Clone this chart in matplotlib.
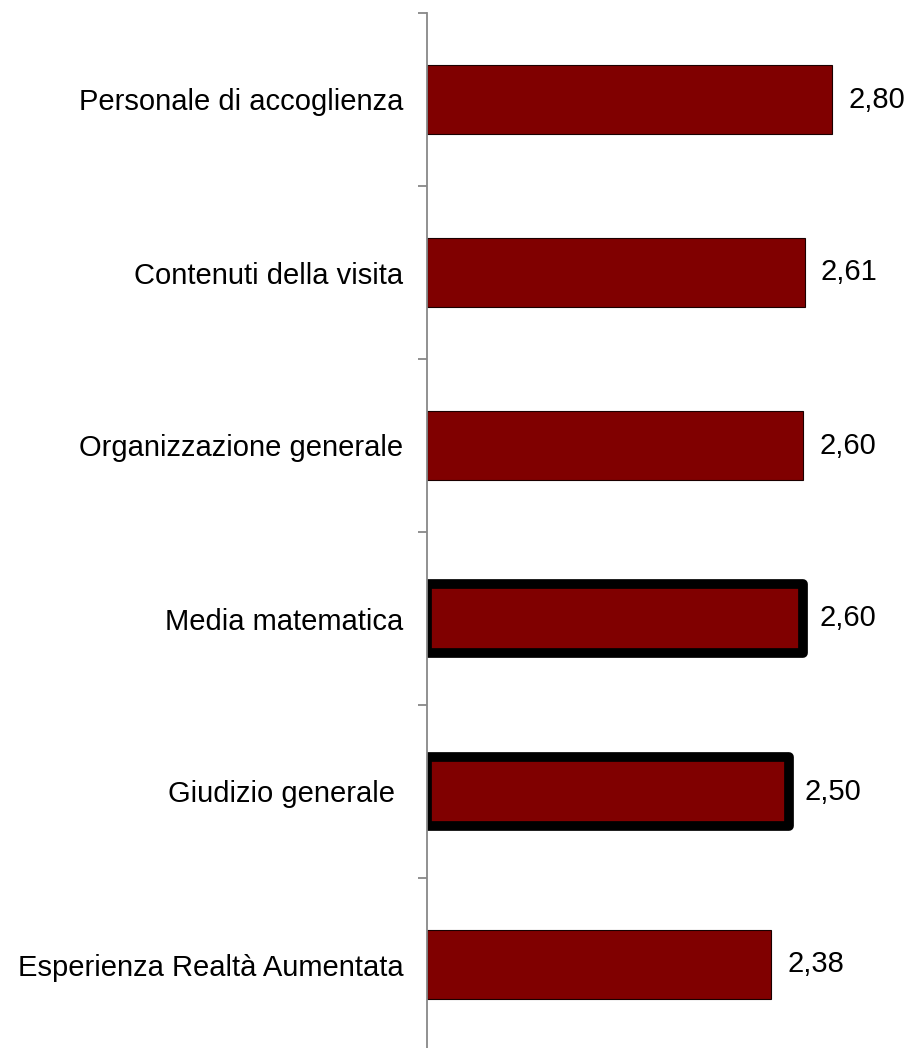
import matplotlib.pyplot as plt
import matplotlib.ticker as mticker

plt.rcParams['font.family'] = ['Liberation Sans', 'DejaVu Sans']

# punteggi medi per voce del questionario
voci = ['Personale di accoglienza', 'Contenuti della visita', 'Organizzazione generale',
        'Media matematica', 'Giudizio generale ', 'Esperienza Realtà Aumentata']
punteggi = [2.80, 2.61, 2.60, 2.60, 2.50, 2.38]
evidenziate = [False, False, False, True, True, False]

fig = plt.figure(figsize=(9.09, 10.48), dpi=100)
ax = fig.add_axes([427 / 909, -3 / 1048, 463 / 909, 1038 / 1048])

pos = list(range(len(voci)))
bars = ax.barh(pos, punteggi, height=0.4, color='#800000', edgecolor='#1a0000', linewidth=0.8)
for b, ev in zip(bars, evidenziate):
    if ev:
        b.set_edgecolor('black')
        b.set_linewidth(7)
        b.set_joinstyle('round')

for p, v in zip(pos, punteggi):
    ax.annotate(f'{v:.2f}'.replace('.', ','), xy=(v, p), xytext=(11.5, 0),
                textcoords='offset points', ha='left', va='center', fontsize=21)

ax.set_xlim(0, 3.2)
ax.set_ylim(len(voci) - 0.5, -0.5)
ax.set_yticks(pos)
ax.set_yticklabels(voci, fontsize=21)
ax.yaxis.set_minor_locator(mticker.FixedLocator([i - 0.5 for i in range(len(voci) + 1)]))
ax.tick_params(axis='y', which='major', length=0, pad=17)
ax.tick_params(axis='y', which='minor', length=6.5, width=1.3, color='#888888')
ax.set_xticks([])
for s in ['top', 'right', 'bottom']:
    ax.spines[s].set_visible(False)
ax.spines['left'].set_color('#888888')
ax.spines['left'].set_linewidth(1.3)

fig.savefig('out.png', dpi=100)
